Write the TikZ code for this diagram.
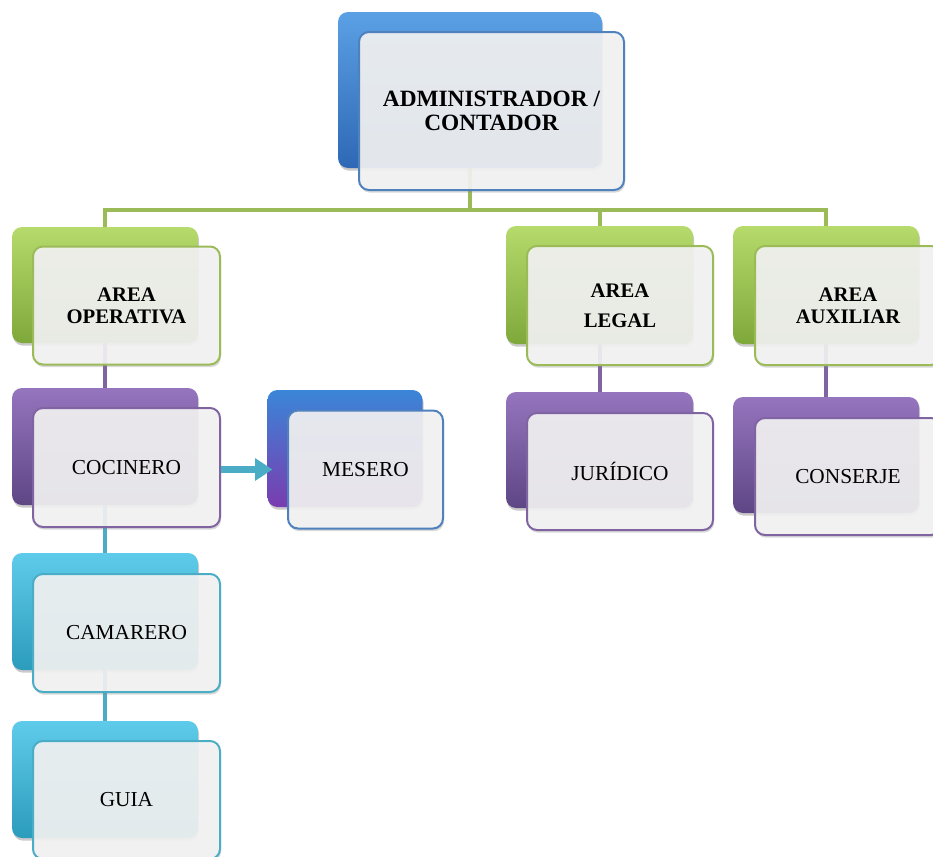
\documentclass[tikz,border=0pt]{standalone}
\usepackage{fontspec}
\setmainfont{Liberation Serif}
\usetikzlibrary{shadows,arrows.meta}
\pgfdeclarelayer{bg}
\pgfsetlayers{bg,main}
\definecolor{cBlue}{HTML}{4F81BD}
\definecolor{cGreen}{HTML}{9BBB59}
\definecolor{cPurple}{HTML}{8064A2}
\definecolor{cCyan}{HTML}{4BACC6}
\definecolor{frontfill}{HTML}{F4F4F4}
\definecolor{blueTop}{HTML}{5BA0E4}
\definecolor{blueBot}{HTML}{2E68B5}
\definecolor{mesTop}{HTML}{3A86D8}
\definecolor{mesBot}{HTML}{7A3CB0}
\definecolor{greenTop}{HTML}{B6DA6C}
\definecolor{greenBot}{HTML}{7FA83A}
\definecolor{purpleTop}{HTML}{9575BE}
\definecolor{purpleBot}{HTML}{5E4685}
\definecolor{cyanTop}{HTML}{5FCBEA}
\definecolor{cyanBot}{HTML}{2C9CBC}
\tikzset{
  backbox/.style 2 args={rounded corners=7.5pt, minimum width=#1*0.75pt, minimum height=#2*0.75pt,
     inner sep=0pt, drop shadow={shadow xshift=0.8pt, shadow yshift=-2pt, opacity=0.35, fill=black!60}},
  frontbox/.style 2 args={rounded corners=7.5pt, minimum width=#1*0.75pt, minimum height=#2*0.75pt,
     inner sep=0pt, fill=frontfill, fill opacity=0.9, text opacity=1, line width=1.5pt, align=center,
     drop shadow={shadow xshift=0.8pt, shadow yshift=-2pt, opacity=0.3, fill=black!50}},
  gBlue/.style={top color=blueTop, bottom color=blueBot},
  gGreen/.style={top color=greenTop, bottom color=greenBot},
  gPurple/.style={top color=purpleTop, bottom color=purpleBot},
  gCyan/.style={top color=cyanTop, bottom color=cyanBot},
  gMes/.style={top color=mesTop, bottom color=mesBot},
  conn/.style={line width=3pt},
  lbl/.style={font=\fontsize{16}{17}\selectfont},
  blbl/.style={font=\fontsize{15.5}{16.5}\selectfont\bfseries},
}
\begin{document}
\begin{tikzpicture}[x=0.75pt,y=-0.75pt]
\useasboundingbox (0,0) rectangle (933,857);
\clip (0,0) rectangle (933,857);
% top
\node[backbox={264}{156}, gBlue] (admB) at (470,90) {};
\node[frontbox={265}{158}, draw=cBlue, font=\fontsize{17.5}{17.5}\selectfont\bfseries] (adm) at (491.5,111) {ADMINISTRADOR /\\CONTADOR};
% areas
\node[backbox={186}{116}, gGreen] (opB) at (105,285) {};
\node[frontbox={187}{118}, draw=cGreen, blbl] (op) at (126.5,305.5) {AREA\\OPERATIVA};
\node[backbox={187}{118}, gGreen] (legB) at (599.5,285) {};
\node[frontbox={186}{119}, draw=cGreen, blbl] (leg) at (620,305.5) {AREA\\[6pt]LEGAL};
\node[backbox={186}{118}, gGreen] (auxB) at (826,285) {};
\node[frontbox={186}{119}, draw=cGreen, blbl] (aux) at (848,305.5) {AREA\\AUXILIAR};
% left column
\node[backbox={186}{117}, gPurple] (cocB) at (105,446.5) {};
\node[frontbox={187}{119}, draw=cPurple, lbl] (coc) at (126.5,467.5) {COCINERO};
\node[backbox={186}{117}, gCyan] (camB) at (105,611.5) {};
\node[frontbox={187}{118}, draw=cCyan, lbl] (cam) at (126.5,633) {CAMARERO};
\node[backbox={186}{117}, gCyan] (guiB) at (105,779.5) {};
\node[frontbox={187}{118}, draw=cCyan, lbl] (gui) at (126.5,800) {GUIA};
% mesero
\node[backbox={155}{117}, gMes] (mesB) at (345,448.5) {};
\node[frontbox={155}{118}, draw=cBlue, lbl] (mes) at (365.5,469.5) {MESERO};
% juridico / conserje
\node[backbox={187}{116}, gPurple] (jurB) at (599.5,450) {};
\node[frontbox={186}{117}, draw=cPurple, lbl] (jur) at (620,471.5) {JURÍDICO};
\node[backbox={186}{116}, gPurple] (conB) at (826,455) {};
\node[frontbox={186}{117}, draw=cPurple, lbl] (con) at (848,476.5) {CONSERJE};
% connectors
\coordinate (bus) at (0,210);
\begin{pgfonlayer}{bg}
\draw[conn, cGreen] (admB.south) -- (admB.south |- bus);
\draw[conn, cGreen, line join=miter] (opB.north) -- (opB.north |- bus) -- (auxB.north |- bus) -- (auxB.north);
\draw[conn, cGreen] (legB.north |- bus) -- (legB.north);
\draw[conn, cPurple] (opB.south) -- (cocB.north);
\draw[conn, cPurple] (legB.south) -- (jurB.north);
\draw[conn, cPurple] (auxB.south) -- (conB.north);
\draw[conn, cCyan] (cocB.south) -- (camB.north);
\draw[conn, cCyan] (camB.south) -- (guiB.north);
\end{pgfonlayer}
\draw[cCyan, line width=5.5pt, -{Triangle[length=13pt,width=16pt]}, shorten >=-4pt] (coc.east |- mes) -- (mesB.west |- mes);
\end{tikzpicture}
\end{document}
